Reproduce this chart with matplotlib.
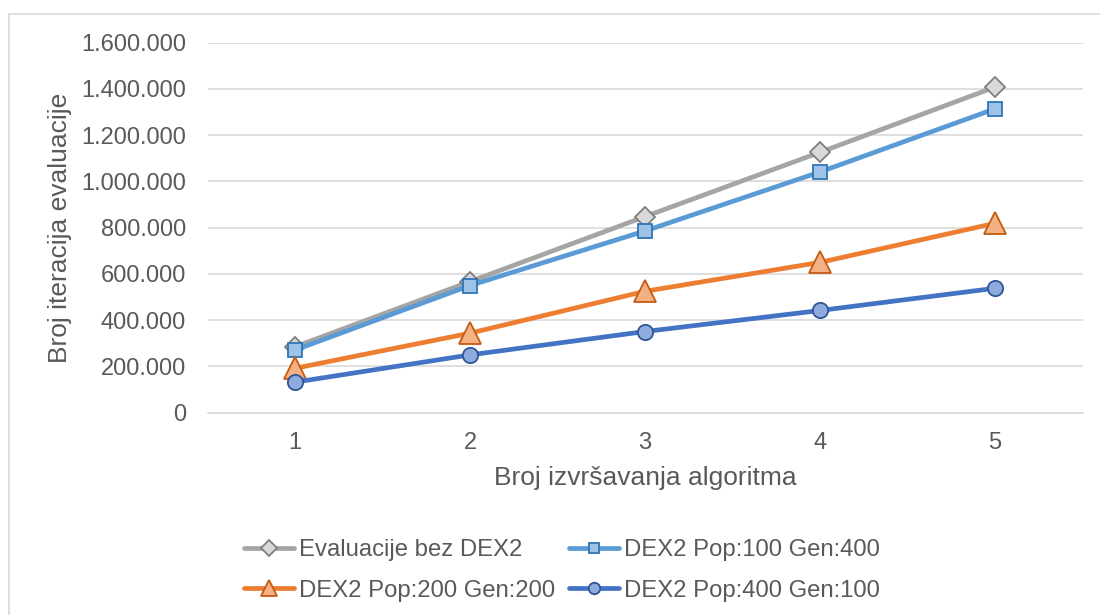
import matplotlib
matplotlib.use("Agg")
import matplotlib.pyplot as plt
from matplotlib.ticker import FuncFormatter
from matplotlib.patches import Rectangle

plt.rcParams['font.family'] = ['Liberation Sans', 'DejaVu Sans']

runs = [1, 2, 3, 4, 5]
bez_dex2 = [285000, 567000, 848000, 1126000, 1408000]
pop100_gen400 = [271000, 550000, 786000, 1041000, 1314000]
pop200_gen200 = [192000, 344000, 525000, 650000, 819000]
pop400_gen100 = [132000, 250000, 351000, 442000, 538000]

series_labels = ["Evaluacije bez DEX2", "DEX2 Pop:100 Gen:400",
                 "DEX2 Pop:200 Gen:200", "DEX2 Pop:400 Gen:100"]
y_ticks = [0, 200000, 400000, 600000, 800000, 1000000, 1200000, 1400000, 1600000]

W, H = 1100, 615
fig = plt.figure(figsize=(W / 100, H / 100), dpi=100)
fig.patch.set_facecolor("white")

# chart border (extends past the right/bottom edges)
fig.add_artist(Rectangle((8.5 / W, -0.1), 1.2, 1 - 13.5 / H + 0.1,
                         transform=fig.transFigure, fill=False,
                         edgecolor="#D9D9D9", linewidth=1.2))

left, right, top, bottom = 207.5, 1082.5, 42.7, 412.7
ax = fig.add_axes([left / W, 1 - bottom / H, (right - left) / W, (bottom - top) / H])

styles = [
    dict(color="#A5A5A5", marker="D", ms=10.5, mfc="#D9D9D9", mec="#7F7F7F"),
    dict(color="#5B9BD5", marker="s", ms=10, mfc="#9DC3E6", mec="#2E75B6"),
    dict(color="#ED7D31", marker="^", ms=16, mfc="#F4B183", mec="#C55A11"),
    dict(color="#4472C4", marker="o", ms=11, mfc="#8FAADC", mec="#2F5597"),
]
data = [bez_dex2, pop100_gen400, pop200_gen200, pop400_gen100]

handles = []
for vals, lab, st in zip(data, series_labels, styles):
    h, = ax.plot(runs, vals, color=st["color"], lw=3.4, marker=st["marker"],
                 markersize=st["ms"], markerfacecolor=st["mfc"],
                 markeredgecolor=st["mec"], markeredgewidth=1.3,
                 label=lab, solid_capstyle="round", clip_on=False, zorder=3)
    handles.append(h)

ax.set_xlim(0.5, 5.5)
ax.set_ylim(0, 1600000)
ax.set_xticks(runs)
ax.set_yticks(y_ticks)
ax.yaxis.set_major_formatter(FuncFormatter(lambda v, p: f"{int(v):,}".replace(",", ".")))

ax.grid(axis="y", color="#D9D9D9", linewidth=1.2)
ax.set_axisbelow(True)
for s in ["top", "right", "left"]:
    ax.spines[s].set_visible(False)
ax.spines["bottom"].set_color("#D9D9D9")
ax.spines["bottom"].set_linewidth(1.2)
ax.tick_params(axis="both", length=0, labelsize=17, colors="#595959")
ax.tick_params(axis="y", pad=15.5)
ax.tick_params(axis="x", pad=14)

ax.set_xlabel("Broj izvršavanja algoritma", fontsize=19, color="#595959")
ax.set_ylabel("Broj iteracija evaluacije", fontsize=19, color="#595959")
ax.xaxis.set_label_coords(0.5, (412.7 - 478) / 370)
ax.yaxis.set_label_coords((60 - 207.5) / 875, 0.5)
ax.xaxis.label.set_va("center")
ax.yaxis.label.set_va("center")

# row-major legend order for a two-column layout
order = [0, 2, 1, 3]
leg = fig.legend(handles=[handles[i] for i in order],
                 labels=[series_labels[i] for i in order], ncol=2,
                 loc="center", bbox_to_anchor=(562 / W, 1 - 570.5 / H),
                 frameon=False, fontsize=17.2, handlelength=2.1,
                 handletextpad=0.2, columnspacing=0.6, labelspacing=0.78,
                 markerscale=0.75)
for t in leg.get_texts():
    t.set_color("#595959")

fig.savefig("out.png", dpi=100, facecolor="white")
